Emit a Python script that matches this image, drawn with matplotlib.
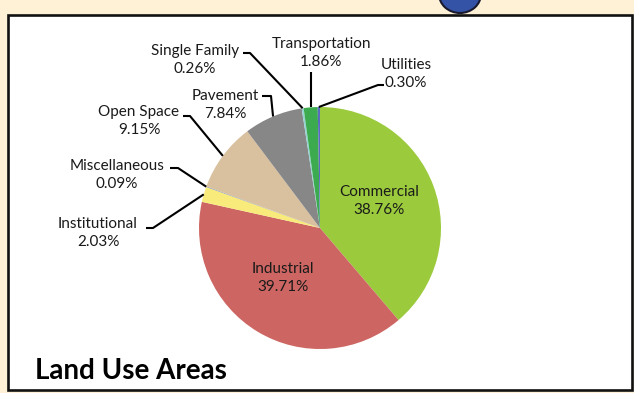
import matplotlib
matplotlib.use("Agg")
import matplotlib.pyplot as plt
from matplotlib.patches import Rectangle, Ellipse
import numpy as np

plt.rcParams['font.family'] = ['Lato', 'DejaVu Sans']

categories = ["Commercial", "Industrial", "Institutional", "Miscellaneous",
              "Open Space", "Pavement", "Single Family", "Transportation", "Utilities"]
shares = [38.76, 39.71, 2.03, 0.09, 9.15, 7.84, 0.26, 1.86, 0.30]
colors = ["#9BCB3C", "#CD6662", "#F8EB7B", "#7F95B5", "#D9C19F",
          "#878787", "#93D3D3", "#3CAA4E", "#5B6BC0"]
title = "Land Use Areas"

W, H = 634, 393
fig = plt.figure(figsize=(W / 100, H / 100), dpi=100, facecolor="#FFF1D6")

def fx(px):
    return px / W

def fy(py):
    return 1 - py / H

# decorative badge peeking in at the top edge
fig.patches.append(Ellipse((fx(460), fy(-6)), 42 / W, 38 / H, transform=fig.transFigure,
                           facecolor="#3453A6", edgecolor="#1A1A2E", lw=1.5, zorder=0))

# white panel with black frame
fig.patches.append(Rectangle((fx(8), fy(390)), 624 / W, 375 / H, transform=fig.transFigure,
                             facecolor="white", edgecolor="#111111", lw=1.9, zorder=1))

# pie geometry (pixels)
cx, cy, R = 320, 228, 121
ax = fig.add_axes([fx(cx - R), fy(cy + R), 2 * R / W, 2 * R / H])
ax.set_zorder(2)
ax.pie(shares, colors=colors, startangle=90, counterclock=False,
       wedgeprops=dict(linewidth=0))
ax.set_xlim(-1, 1)
ax.set_ylim(-1, 1)
ax.set_aspect('equal')
ax.axis('off')

def to_data(px, py):
    return (px - cx) / R, (cy - py) / R

# mid-angle anchor of each wedge on the rim
cum = np.cumsum([0] + shares[:-1])
mids = np.array(cum) + np.array(shares) / 2
theta = np.deg2rad(90 - 360 * mids / 100.0)
anchors = {c: (np.cos(t), np.sin(t)) for c, t in zip(categories, theta)}

label_font = dict(fontsize=11, color="#1a1a1a", ha="center", va="center", linespacing=1.4)

inside = {"Commercial": (379, 201), "Industrial": (283, 278)}
for c, (px, py) in inside.items():
    i = categories.index(c)
    x, y = to_data(px, py)
    ax.text(x, y, f"{c}\n{shares[i]:.2f}%", **label_font)

outside = {
    "Single Family": ((195, 60), [(243, 53), (250, 53)]),
    "Transportation": ((321, 53), [(311, 72)]),
    "Utilities": ((406, 74), [(384, 85), (378, 85)]),
    "Pavement": ((225, 105), [(262, 96), (271, 96)]),
    "Open Space": ((139, 121), [(183, 116), (190, 116)]),
    "Miscellaneous": ((117, 175), [(170, 168), (178, 168)]),
    "Institutional": ((98, 233), [(146, 228), (153, 228)]),
}
for c, ((px, py), elbow) in outside.items():
    i = categories.index(c)
    x, y = to_data(px, py)
    ax.text(x, y, f"{c}\n{shares[i]:.2f}%", **label_font)
    pts = [to_data(*p) for p in elbow] + [anchors[c]]
    if c == "Transportation":
        pts[0] = (anchors[c][0], pts[0][1])
    xs, ys = zip(*pts)
    ax.plot(xs, ys, color="black", lw=1.5, clip_on=False, solid_capstyle="butt")

fig.text(fx(35), fy(379), title, fontsize=20, fontweight="bold", color="black",
         ha="left", va="baseline", zorder=3)

fig.savefig("out.png", dpi=100, facecolor=fig.get_facecolor())
